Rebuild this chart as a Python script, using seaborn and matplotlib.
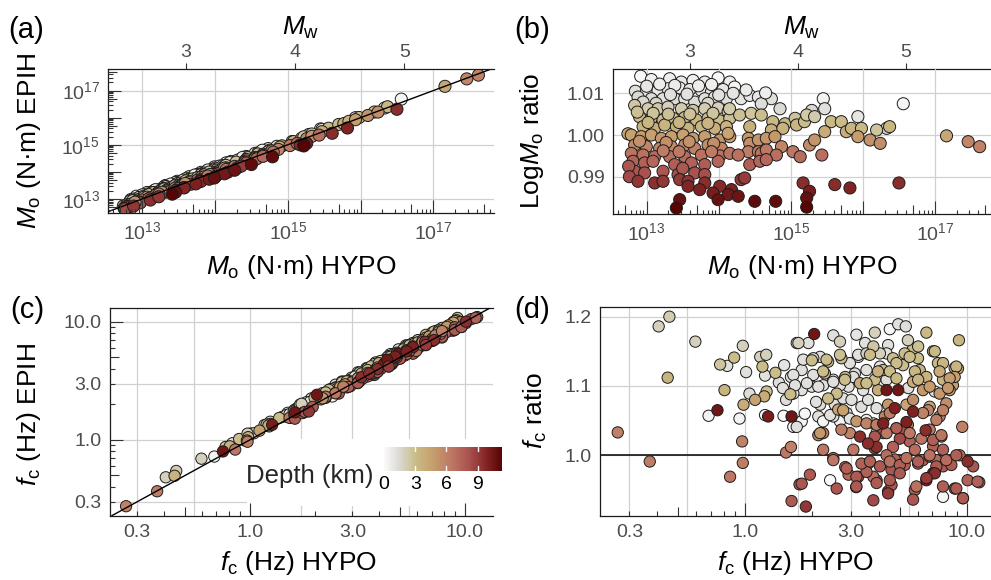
import numpy as np
import pandas as pd
import matplotlib
matplotlib.use("Agg")
import matplotlib.pyplot as plt
import seaborn as sns
from matplotlib.colors import LinearSegmentedColormap, Normalize
from matplotlib.collections import LineCollection
from matplotlib.patches import Rectangle
from matplotlib.cm import ScalarMappable
from matplotlib.ticker import FixedLocator, NullLocator, NullFormatter

# ---------------------------------------------------------------------------
# Seismic moment events: (log10 Mo from HYPO, log-Mo ratio EPIH/HYPO, depth km)
# ---------------------------------------------------------------------------
mo_shallow = [
    (12.917, 1.0141, 0.2), (13.065, 1.0133, 0.5), (13.319, 1.0135, 0.6), (13.480, 1.0127, 0.8),
    (13.643, 1.0131, 0.5), (13.806, 1.0127, 0.7), (13.991, 1.0137, 0.2), (14.153, 1.0127, 0.6),
    (12.843, 1.0105, 1.2), (12.995, 1.0103, 1.0), (13.157, 1.0107, 0.8), (13.296, 1.0111, 0.9),
    (13.458, 1.0113, 0.7), (13.597, 1.0109, 1.0), (13.759, 1.0107, 0.8), (13.898, 1.0103, 1.1),
    (14.060, 1.0109, 0.9), (12.880, 1.0091, 1.5), (13.065, 1.0087, 1.3), (13.227, 1.0087, 1.2),
    (13.389, 1.0087, 1.4), (13.528, 1.0087, 1.1), (13.667, 1.0079, 1.4), (13.806, 1.0087, 1.2),
    (13.944, 1.0091, 1.0), (14.106, 1.0087, 1.3), (14.220, 1.0115, 0.3), (14.310, 1.0087, 1.0),
    (14.430, 1.0095, 0.8), (14.550, 1.0091, 0.9), (14.730, 1.0087, 1.2), (14.590, 1.0075, 1.3),
    (14.850, 1.0063, 1.4), (15.450, 1.0087, 0.4), (15.470, 1.0063, 1.2), (15.290, 1.0059, 1.6),
    (15.930, 1.0044, 0.9), (16.560, 1.0075, 0.3), (16.330, 1.0016, 1.5),
    (13.180, 1.0122, 0.6), (13.390, 1.0119, 0.7), (13.720, 1.0118, 0.6), (13.900, 1.0121, 0.5),
    (13.000, 1.0117, 0.9), (13.560, 1.0098, 1.1), (13.330, 1.0097, 1.2), (14.000, 1.0096, 1.1),
    (14.200, 1.0100, 1.0), (14.380, 1.0108, 0.7), (12.950, 1.0079, 1.6), (13.130, 1.0076, 1.7),
    (13.850, 1.0076, 1.6), (14.650, 1.0101, 0.6),
]
mo_mid = [
    (12.833, 1.0071, 2.5), (13.018, 1.0063, 2.2), (13.157, 1.0063, 2.4), (13.296, 1.0067, 2.0),
    (13.482, 1.0063, 2.3), (13.643, 1.0059, 2.6), (13.806, 1.0063, 2.2), (13.991, 1.0065, 2.0),
    (14.130, 1.0056, 2.6), (12.900, 1.0044, 3.0), (13.065, 1.0040, 3.2), (13.227, 1.0036, 3.0),
    (13.366, 1.0040, 2.9), (13.528, 1.0042, 3.1), (13.690, 1.0036, 3.3), (13.852, 1.0040, 2.9),
    (14.014, 1.0034, 3.0), (14.153, 1.0040, 2.8), (12.950, 1.0020, 3.6), (13.111, 1.0016, 3.8),
    (13.250, 1.0024, 3.5), (13.412, 1.0020, 3.7), (13.574, 1.0016, 3.6), (13.759, 1.0020, 3.5),
    (13.944, 1.0016, 3.8), (14.106, 1.0020, 3.6), (14.150, 1.0063, 2.3), (14.290, 1.0048, 2.8),
    (14.450, 1.0052, 2.6), (14.590, 1.0048, 2.9), (14.750, 1.0032, 3.2), (14.920, 1.0027, 3.3),
    (15.060, 1.0040, 2.7), (15.080, 1.0024, 3.4), (15.190, 1.0032, 3.0), (15.220, 1.0048, 2.4),
    (15.330, 1.0044, 2.3), (15.560, 1.0032, 3.2), (15.700, 1.0032, 3.0), (15.470, 1.0008, 4.0),
    (15.770, 1.0008, 3.9), (15.840, 1.0016, 3.5), (14.430, 1.0020, 3.7), (14.730, 1.0012, 3.9),
    (14.890, 1.0016, 3.6), (15.980, 1.0016, 3.2), (16.190, 1.0012, 2.6), (16.370, 1.0020, 3.3),
    (12.740, 1.0003, 4.4),
    (12.870, 1.0055, 2.8), (13.090, 1.0052, 2.7), (13.300, 1.0050, 2.8), (13.600, 1.0050, 2.7),
    (13.920, 1.0052, 2.6), (13.450, 1.0030, 3.4), (13.850, 1.0028, 3.4), (13.020, 1.0030, 3.3),
]
mo_deep = [
    (12.787, 1.0000, 4.5), (12.926, 0.9996, 4.8), (13.065, 1.0000, 4.6), (13.204, 0.9992, 5.0),
    (13.343, 0.9996, 4.7), (13.505, 1.0000, 4.5), (13.643, 0.9992, 5.0), (13.806, 0.9996, 4.8),
    (14.014, 0.9988, 5.2), (14.153, 0.9996, 4.7), (12.833, 0.9976, 5.6), (12.995, 0.9972, 5.8),
    (13.180, 0.9968, 5.9), (13.343, 0.9972, 5.7), (13.528, 0.9976, 5.6), (13.667, 0.9968, 6.0),
    (13.852, 0.9976, 5.5), (14.037, 0.9968, 5.9), (14.130, 1.0004, 4.4), (14.410, 0.9992, 5.0),
    (14.430, 0.9980, 5.4), (14.550, 0.9988, 5.2), (14.660, 0.9992, 5.1), (14.780, 0.9996, 4.9),
    (14.870, 0.9972, 5.8), (15.260, 0.9976, 5.6), (15.330, 0.9988, 5.2), (14.410, 0.9960, 6.2),
    (14.550, 0.9960, 6.3), (15.930, 0.9996, 4.8), (16.100, 0.9988, 5.3), (16.240, 0.9980, 5.5),
    (17.160, 0.9998, 4.2), (17.460, 0.9984, 5.8), (17.620, 0.9972, 6.0),
    (12.787, 0.9956, 6.6), (12.950, 0.9952, 6.8), (13.111, 0.9948, 7.0), (13.319, 0.9948, 6.9),
    (13.528, 0.9948, 7.0), (13.759, 0.9952, 6.8), (14.014, 0.9950, 6.8), (14.153, 0.9956, 6.6),
    (12.810, 0.9937, 7.4), (12.972, 0.9933, 7.5), (13.088, 0.9937, 7.3), (13.389, 0.9929, 7.6),
    (13.620, 0.9933, 7.5), (13.806, 0.9929, 7.7), (13.991, 0.9937, 7.3), (12.833, 0.9913, 8.0),
    (12.972, 0.9909, 8.2), (13.227, 0.9913, 8.0), (13.435, 0.9905, 8.3), (13.667, 0.9909, 8.2),
    (13.806, 0.9905, 8.3), (14.270, 0.9952, 6.8), (14.590, 0.9956, 6.7), (14.660, 0.9964, 6.4),
    (14.800, 0.9952, 6.9), (15.030, 0.9960, 6.5), (15.130, 0.9948, 7.0), (15.430, 0.9952, 6.9),
    (14.430, 0.9929, 7.6), (14.570, 0.9937, 7.3), (14.660, 0.9941, 7.2), (12.750, 0.9925, 8.0),
    (12.760, 0.9900, 8.5),
    (12.900, 0.9985, 5.3), (13.270, 0.9982, 5.4), (13.590, 0.9984, 5.3), (13.930, 0.9980, 5.5),
    (13.230, 0.9962, 6.3), (13.450, 0.9960, 6.4), (13.900, 0.9960, 6.3), (13.500, 0.9920, 7.9),
]
mo_deepest = [
    (12.880, 0.9889, 9.2), (13.111, 0.9885, 9.4), (13.227, 0.9889, 9.2), (13.458, 0.9893, 9.1),
    (13.574, 0.9889, 9.3), (13.806, 0.9885, 9.5), (14.014, 0.9877, 9.7), (14.176, 0.9869, 10.0),
    (13.574, 0.9877, 9.8), (13.736, 0.9869, 10.0), (13.921, 0.9861, 10.2), (14.130, 0.9857, 10.4),
    (13.458, 0.9845, 10.8), (13.412, 0.9825, 11.5), (13.991, 0.9845, 10.8), (14.310, 0.9893, 9.2),
    (14.360, 0.9897, 9.0), (14.270, 0.9853, 10.6), (14.500, 0.9841, 11.0), (14.790, 0.9841, 11.0),
    (15.170, 0.9885, 9.5), (15.260, 0.9865, 10.2), (15.220, 0.9849, 10.8), (15.220, 0.9827, 11.5),
    (15.610, 0.9881, 9.6), (15.820, 0.9873, 9.9), (16.500, 0.9885, 9.5),
]

# ---------------------------------------------------------------------------
# Corner-frequency events: (fc HYPO in Hz, fc ratio EPIH/HYPO, depth km)
# ---------------------------------------------------------------------------
fc_shallow = [
    (0.684, 1.057, 0.4), (0.830, 1.129, 1.2), (0.943, 1.053, 0.4), (1.010, 1.120, 1.2),
    (1.046, 1.089, 1.3), (1.230, 1.115, 1.2), (1.230, 1.058, 0.3), (1.420, 1.105, 1.3),
    (1.500, 1.130, 1.0), (1.490, 1.057, 0.1), (1.480, 1.097, 1.2), (1.530, 1.080, 1.3),
    (1.610, 1.113, 1.2), (1.930, 1.162, 1.2), (2.500, 1.173, 1.2), (3.180, 1.174, 1.0),
    (4.500, 1.182, 0.2), (4.910, 1.189, 1.2), (5.310, 1.186, 1.3), (3.480, 1.162, 1.2),
    (2.420, 0.964, 0.1), (7.820, 0.940, 0.3), (7.180, 1.092, 1.2), (2.680, 1.049, 0.4),
    (2.870, 1.061, 1.2), (2.540, 1.073, 1.2), (1.800, 1.049, 0.3), (1.650, 1.041, 0.3),
    (2.140, 1.056, 1.2), (2.180, 1.073, 1.3), (2.770, 1.082, 1.2), (3.020, 1.080, 1.2),
    (3.350, 1.070, 1.3), (3.790, 1.046, 1.2), (3.920, 1.068, 1.2), (3.590, 1.080, 1.2),
    (3.410, 1.094, 1.2), (4.420, 1.159, 1.2), (3.240, 1.142, 1.2), (2.970, 1.133, 1.2),
    (2.180, 1.142, 1.2), (1.800, 1.123, 1.2), (1.650, 1.116, 1.2), (2.030, 1.116, 1.2),
    (2.500, 1.109, 1.2), (3.130, 1.118, 1.2), (3.530, 1.123, 1.2), (2.930, 1.099, 1.2),
    (2.680, 1.101, 1.2), (2.250, 1.101, 1.2), (2.000, 1.099, 1.2), (1.800, 1.094, 1.2),
    (1.650, 1.089, 1.2), (2.500, 1.056, 1.2), (2.250, 1.049, 0.3), (1.860, 1.060, 0.3),
    (2.090, 1.077, 1.2), (1.830, 1.138, 1.2), (2.030, 1.140, 1.3), (3.240, 1.145, 1.2),
    (4.060, 1.128, 1.2), (3.080, 1.113, 1.2), (2.500, 1.106, 1.2), (2.140, 1.099, 1.2),
    (1.900, 1.104, 1.2), (1.680, 1.101, 1.2), (5.450, 1.097, 1.2), (4.350, 1.147, 1.2),
    (4.350, 1.109, 1.3), (3.530, 1.051, 0.6), (3.920, 1.032, 1.2), (2.970, 1.053, 1.1),
    (2.420, 1.058, 1.2), (1.710, 1.041, 1.2),
]
fc_mid = [
    (0.407, 1.186, 2.0), (0.455, 1.200, 2.2), (0.447, 1.112, 3.6), (0.596, 1.164, 2.0),
    (0.771, 1.131, 2.6), (0.807, 1.094, 3.6), (0.892, 1.141, 3.0), (0.976, 1.158, 2.0),
    (0.983, 1.073, 4.0), (1.170, 1.142, 2.0), (1.245, 1.145, 2.0), (1.197, 1.128, 3.0),
    (1.250, 1.092, 3.0), (1.220, 1.085, 4.0), (1.370, 1.119, 3.0), (1.600, 1.088, 3.0),
    (1.710, 1.162, 2.0), (1.740, 1.162, 2.0), (3.850, 1.177, 2.0), (6.580, 1.177, 3.2),
    (9.230, 1.166, 3.4), (2.680, 1.164, 2.0), (9.140, 1.125, 4.0), (7.820, 1.109, 3.5),
    (7.420, 1.133, 3.2), (7.050, 1.150, 3.5), (6.140, 1.123, 3.5), (6.030, 1.140, 3.0),
    (5.730, 1.154, 3.0), (5.430, 1.166, 2.0), (5.250, 1.147, 3.0), (5.160, 1.130, 3.0),
    (5.730, 1.106, 4.0), (2.590, 1.089, 3.0), (3.980, 1.094, 4.0), (3.850, 1.109, 3.0),
    (4.200, 1.123, 3.0), (4.650, 1.140, 3.0), (4.060, 1.147, 2.0), (3.530, 1.147, 2.0),
    (2.720, 1.140, 3.0), (2.370, 1.135, 3.0), (2.000, 1.137, 3.0), (2.290, 1.118, 3.5),
    (2.830, 1.113, 3.0), (3.300, 1.104, 4.0), (2.370, 1.082, 3.0), (7.180, 1.150, 3.2),
    (7.820, 1.133, 3.4), (8.830, 1.126, 3.6), (6.040, 1.157, 2.8), (5.530, 1.142, 3.0),
    (4.820, 1.133, 3.0), (3.790, 1.157, 2.5), (2.330, 1.138, 3.0), (2.680, 1.145, 2.8),
    (3.660, 1.145, 3.0), (4.500, 1.121, 3.0), (5.840, 1.121, 3.3), (6.580, 1.113, 3.6),
    (7.550, 1.121, 4.0), (8.980, 1.128, 3.4), (4.820, 1.111, 3.2), (3.980, 1.121, 3.8),
    (3.530, 1.104, 3.0), (2.820, 1.109, 3.0), (2.250, 1.121, 3.0), (6.040, 1.109, 3.5),
    (1.109, 1.080, 4.5), (6.810, 1.070, 4.4), (5.350, 1.073, 4.4),
]
fc_deep = [
    (0.266, 1.033, 6.0), (0.371, 0.991, 6.2), (0.855, 0.969, 6.5), (0.969, 1.020, 6.0),
    (0.976, 0.989, 6.2), (1.530, 1.004, 6.5), (1.610, 1.012, 6.0), (1.620, 0.934, 7.8),
    (1.760, 0.958, 7.6), (1.800, 0.959, 8.0), (1.960, 0.972, 7.8), (2.590, 0.952, 8.0),
    (2.500, 0.996, 7.5), (2.250, 1.008, 6.5), (2.140, 1.029, 6.0), (2.830, 0.983, 7.0),
    (2.930, 0.972, 7.2), (3.170, 0.954, 8.0), (3.240, 0.969, 7.5), (3.790, 0.935, 8.5),
    (3.920, 0.964, 7.5), (4.420, 0.948, 8.5), (4.580, 0.957, 8.0), (5.840, 0.950, 7.5),
    (5.730, 0.936, 8.0), (8.830, 0.952, 8.0), (9.630, 0.938, 8.0), (10.10, 0.964, 7.5),
    (11.40, 0.961, 7.5), (10.70, 0.984, 8.0), (9.290, 1.000, 7.0), (9.550, 1.041, 6.0),
    (8.670, 1.101, 4.5), (8.830, 1.113, 4.5), (8.380, 1.094, 5.0), (8.090, 1.075, 5.5),
    (7.550, 1.056, 6.0), (7.690, 1.027, 7.0), (7.050, 1.013, 7.5), (6.810, 1.037, 6.5),
    (6.700, 1.065, 6.0), (6.350, 1.094, 5.0), (5.730, 1.080, 5.5), (5.430, 1.044, 6.0),
    (5.530, 1.020, 7.5), (5.840, 1.008, 7.0), (6.030, 0.988, 7.5), (6.350, 0.993, 7.5),
    (6.810, 0.998, 7.0), (7.300, 0.993, 7.0), (7.820, 1.008, 7.5), (7.820, 0.984, 7.8),
    (8.530, 0.986, 7.8), (4.820, 1.039, 6.0), (5.250, 1.036, 8.0), (4.990, 1.024, 8.5),
    (4.650, 1.012, 7.5), (4.740, 0.994, 7.5), (5.250, 0.986, 7.5), (4.580, 0.979, 8.0),
    (4.350, 1.000, 7.0), (4.200, 1.032, 8.0), (4.270, 1.056, 6.0), (4.420, 1.073, 5.0),
    (3.850, 1.027, 8.0), (3.590, 0.988, 8.0), (3.790, 0.969, 7.0), (3.530, 0.976, 7.5),
    (3.350, 0.988, 7.5), (3.080, 1.008, 6.5), (2.970, 1.032, 6.0), (3.180, 1.049, 5.0),
    (3.530, 1.046, 6.0), (2.630, 1.066, 4.5), (2.770, 1.065, 4.5), (8.380, 1.111, 4.8),
    (6.810, 1.099, 4.8), (7.550, 1.089, 5.0), (8.240, 1.097, 5.0), (3.850, 1.010, 8.5),
    (2.500, 0.993, 6.5), (2.870, 0.981, 7.5), (3.180, 0.969, 7.8), (3.660, 0.991, 7.5),
    (4.060, 0.984, 7.8), (4.500, 0.991, 6.8), (4.990, 0.986, 7.6), (5.350, 0.996, 6.8),
    (6.040, 0.991, 7.6), (6.810, 1.000, 6.8), (7.300, 0.984, 7.8), (8.090, 0.993, 7.0),
    (8.980, 1.000, 7.6), (11.20, 0.962, 7.5), (3.920, 0.960, 7.8), (4.500, 0.964, 7.8),
    (4.990, 0.974, 7.8), (5.930, 0.955, 6.8), (7.820, 0.955, 7.6), (8.980, 0.952, 7.8),
    (9.620, 0.938, 7.8), (3.180, 0.955, 7.8), (2.250, 1.032, 6.4), (2.720, 1.037, 6.2),
    (3.920, 1.044, 6.2), (4.350, 1.032, 6.4), (4.820, 1.039, 7.6), (5.530, 1.032, 6.4),
    (6.250, 1.024, 6.6), (7.050, 1.022, 7.6), (7.690, 1.029, 6.6), (7.300, 1.051, 6.2),
    (6.350, 1.061, 6.0), (7.820, 1.065, 6.0), (4.500, 1.061, 6.2), (2.180, 1.032, 5.0),
]
fc_deepest = [
    (0.750, 1.065, 10.5), (1.270, 1.056, 10.2), (1.620, 1.056, 10.5), (2.050, 1.175, 10.5),
    (1.880, 0.926, 9.2), (6.580, 0.964, 10.0), (7.050, 0.974, 10.2), (10.10, 0.991, 9.5),
    (5.730, 1.063, 10.0), (4.910, 1.094, 10.5), (4.740, 1.068, 10.0), (4.200, 1.046, 10.0),
    (4.350, 1.094, 10.5), (3.920, 1.012, 9.5), (3.300, 1.027, 9.5), (3.590, 1.017, 9.5),
    (5.350, 1.048, 10.0), (6.530, 1.036, 9.5), (7.180, 0.974, 9.5), (6.580, 0.967, 9.0),
    (4.420, 0.945, 9.0),
]

# Axis tick values and labels
mo_ticks = [1e13, 1e15, 1e17]
mo_ticklabels = [r"$10^{13}$", r"$10^{15}$", r"$10^{17}$"]
mw_ticks = [3, 4, 5]
fc_ticks = [0.3, 1.0, 3.0, 10.0]
fc_ticklabels = ["0.3", "1.0", "3.0", "10.0"]
logmo_ratio_ticks = [0.99, 1.00, 1.01]
fc_ratio_ticks = [1.0, 1.1, 1.2]
depth_ticks = [0, 3, 6, 9]

# ---------------------------------------------------------------------------
sns.set_style("white")
plt.rcParams["font.family"] = ["Liberation Sans", "DejaVu Sans"]
plt.rcParams["mathtext.fontset"] = "custom"
plt.rcParams["mathtext.rm"] = "Liberation Sans"
plt.rcParams["mathtext.it"] = "Liberation Sans:italic"
plt.rcParams["mathtext.bf"] = "Liberation Sans:bold"

mo = pd.DataFrame(mo_shallow + mo_mid + mo_deep + mo_deepest,
                  columns=["log_mo", "ratio", "depth"])
mo["mo_hypo"] = 10.0 ** mo["log_mo"]
mo["mo_epih"] = 10.0 ** (mo["log_mo"] * mo["ratio"])

fc = pd.DataFrame(fc_shallow + fc_mid + fc_deep + fc_deepest,
                  columns=["fc_hypo", "ratio", "depth"])
fc["fc_epih"] = fc["fc_hypo"] * fc["ratio"]

depth_cmap = LinearSegmentedColormap.from_list(
    "depth",
    [(0.00, "#fbfbfb"), (0.12, "#dcdbd7"), (0.27, "#c9bb86"), (0.42, "#c69d6c"),
     (0.57, "#bd7764"), (0.72, "#a9524e"), (0.88, "#7e2020"), (1.00, "#560404")])
depth_norm = Normalize(vmin=0, vmax=11.4)

W, H = 991, 580
fig = plt.figure(figsize=(W / 100, H / 100), dpi=100)


def px_axes(x0, y0, x1, y1):
    return fig.add_axes([x0 / W, 1 - y1 / H, (x1 - x0) / W, (y1 - y0) / H])


ax_a = px_axes(108.3, 69.5, 494.0, 213.3)
ax_b = px_axes(613.3, 69.3, 991.0, 214.3)
ax_c = px_axes(110.0, 308.3, 493.3, 515.7)
ax_d = px_axes(600.0, 306.7, 991.0, 515.7)

TICK_GREY = "#4d4d4d"
GRID = "#d0d0d0"


def scatter(ax, df, x, y, size):
    sns.scatterplot(data=df, x=x, y=y, hue="depth", palette=depth_cmap,
                    hue_norm=depth_norm, s=size, edgecolor="#1c1c1c",
                    linewidth=0.7, legend=False, ax=ax, zorder=3)


def base_style(ax):
    ax.set_xlabel("")
    ax.set_ylabel("")
    ax.set_facecolor("white")
    for side in ["left", "bottom", "top"]:
        ax.spines[side].set_color("#1a1a1a")
        ax.spines[side].set_linewidth(0.9)
    ax.spines["right"].set_visible(False)
    ax.set_axisbelow(True)
    ax.grid(True, which="major", color=GRID, lw=0.9)
    ax.tick_params(which="major", direction="out", length=4, width=0.8,
                   color="#333333", labelsize=14, labelcolor=TICK_GREY, pad=2)
    ax.tick_params(which="minor", length=0)
    ax.xaxis.set_minor_formatter(NullFormatter())
    ax.yaxis.set_minor_formatter(NullFormatter())


def log_ticks(ax, axis, k_lo, k_hi, span_px):
    # inner log ticks: long at decades, medium at fives, short elsewhere
    segs = []
    for k in range(k_lo, k_hi + 1):
        for m in range(1, 10):
            v = m * 10.0 ** k
            L = {1: 13.0, 5: 9.0}.get(m, 4.5) / span_px
            if axis == "x":
                segs.append([(v, 0), (v, L)])
            else:
                segs.append([(0, v), (L, v)])
    tr = ax.get_xaxis_transform() if axis == "x" else ax.get_yaxis_transform()
    lc = LineCollection(segs, colors="#333333", linewidths=0.8, transform=tr, zorder=4)
    ax.add_collection(lc, autolim=False)


def mo_to_mw(m):
    return (2.0 / 3.0) * (np.log10(np.maximum(np.asarray(m, dtype=float), 1e-30)) - 9.1)


def mw_to_mo(w):
    return 10.0 ** (1.5 * np.asarray(w, dtype=float) + 9.1)


def mw_axis(ax):
    ax.spines["top"].set_visible(False)
    sec = ax.secondary_xaxis("top", functions=(mo_to_mw, mw_to_mo))
    sec.set_xticks(mw_ticks)
    sec.set_xticklabels([str(t) for t in mw_ticks])
    sec.xaxis.set_minor_locator(NullLocator())
    sec.tick_params(direction="out", length=4, width=0.8, color="#333333",
                    labelsize=14, labelcolor=TICK_GREY, pad=2)
    sec.spines["top"].set_color("#1a1a1a")
    sec.spines["top"].set_linewidth(0.9)
    return sec


# ---------------- (a) Mo EPIH vs Mo HYPO ----------------
scatter(ax_a, mo, "mo_hypo", "mo_epih", 76)
ax_a.set_xscale("log")
ax_a.set_yscale("log")
base_style(ax_a)
ax_a.axline((1e13, 1e13), (1e17, 1e17), color="black", lw=1.0, zorder=4)
ax_a.xaxis.set_major_locator(FixedLocator(mo_ticks))
ax_a.set_xticklabels(mo_ticklabels)
ax_a.xaxis.set_minor_locator(FixedLocator([1e14, 1e16]))
ax_a.grid(True, which="minor", axis="x", color=GRID, lw=0.9)
ax_a.yaxis.set_major_locator(FixedLocator(mo_ticks))
ax_a.set_yticklabels(mo_ticklabels)
ax_a.yaxis.set_minor_locator(NullLocator())
log_ticks(ax_a, "x", 12, 17, 143.8)
log_ticks(ax_a, "y", 12, 17, 385.7)
ax_a.set_xlim(10 ** 12.533, 10 ** 17.834)
ax_a.set_ylim(10 ** 12.47, 10 ** 17.778)
mw_axis(ax_a)

# ---------------- (b) log-Mo ratio vs Mo HYPO ----------------
scatter(ax_b, mo, "mo_hypo", "ratio", 76)
ax_b.set_xscale("log")
base_style(ax_b)
ax_b.xaxis.set_major_locator(FixedLocator(mo_ticks))
ax_b.set_xticklabels(mo_ticklabels)
ax_b.xaxis.set_minor_locator(FixedLocator([1e14, 1e16]))
ax_b.grid(True, which="minor", axis="x", color=GRID, lw=0.9)
ax_b.yaxis.set_major_locator(FixedLocator(logmo_ratio_ticks))
ax_b.set_yticklabels([f"{t:.2f}" for t in logmo_ratio_ticks])
log_ticks(ax_b, "x", 12, 17, 145.0)
ax_b.set_xlim(10 ** 12.537, 10 ** 17.777)
ax_b.set_ylim(0.98098, 1.01576)
mw_axis(ax_b)

# ---------------- (c) fc EPIH vs fc HYPO ----------------
scatter(ax_c, fc, "fc_hypo", "fc_epih", 66)
ax_c.set_xscale("log")
ax_c.set_yscale("log")
base_style(ax_c)
ax_c.axline((1.0, 1.0), (10.0, 10.0), color="black", lw=1.0, zorder=4)
ax_c.xaxis.set_major_locator(FixedLocator(fc_ticks))
ax_c.set_xticklabels(fc_ticklabels)
ax_c.xaxis.set_minor_locator(FixedLocator([0.5477, 1.7321, 5.4772]))
ax_c.grid(True, which="minor", axis="x", color=GRID, lw=0.9)
ax_c.yaxis.set_major_locator(FixedLocator(fc_ticks))
ax_c.set_yticklabels(fc_ticklabels)
ax_c.yaxis.set_minor_locator(NullLocator())
log_ticks(ax_c, "x", -1, 1, 207.4)
log_ticks(ax_c, "y", -1, 1, 383.3)
ax_c.set_xlim(0.2240, 13.54)
ax_c.set_ylim(0.2284, 12.99)
# white backing for the depth key
ax_c.add_patch(Rectangle((247 / W, 1 - 506 / H), 258 / W, 67 / H, transform=fig.transFigure,
                         facecolor="white", edgecolor="none", zorder=0.8, clip_on=False))

# ---------------- (d) fc ratio vs fc HYPO ----------------
scatter(ax_d, fc, "fc_hypo", "ratio", 66)
ax_d.set_xscale("log")
base_style(ax_d)
ax_d.axhline(1.0, color="black", lw=1.1, zorder=2)
ax_d.xaxis.set_major_locator(FixedLocator(fc_ticks))
ax_d.set_xticklabels(fc_ticklabels)
ax_d.xaxis.set_minor_locator(FixedLocator([0.5477, 1.7321, 5.4772]))
ax_d.grid(True, which="minor", axis="x", color=GRID, lw=0.9)
ax_d.yaxis.set_major_locator(FixedLocator(fc_ratio_ticks))
ax_d.set_yticklabels([f"{t:.1f}" for t in fc_ratio_ticks])
ax_d.yaxis.set_minor_locator(FixedLocator([0.95, 1.05, 1.15]))
ax_d.tick_params(axis="y", which="minor", direction="in", length=3, width=0.8, color="#333333")
log_ticks(ax_d, "x", -1, 1, 209.0)
ax_d.set_xlim(0.2212, 12.88)
ax_d.set_ylim(0.9128, 1.2144)

# ---------------- depth colour key ----------------
cax = fig.add_axes([384 / W, 1 - 470.5 / H, 118.5 / W, 24 / H])
sm = ScalarMappable(norm=depth_norm, cmap=depth_cmap)
cb = fig.colorbar(sm, cax=cax, orientation="horizontal")
cb.outline.set_visible(False)
cb.set_ticks(depth_ticks)
cb.set_ticklabels([str(t) for t in depth_ticks])
cax.tick_params(length=0, labelsize=14, labelcolor="black", pad=4)
for t in depth_ticks[1:]:
    cax.plot([t, t], [0, 0.2], color="white", lw=1.0, transform=cax.get_xaxis_transform())
    cax.plot([t, t], [0.8, 1.0], color="white", lw=1.0, transform=cax.get_xaxis_transform())
fig.text(373 / W, 1 - 483 / H, "Depth (km)", fontsize=18.5, ha="right", va="baseline")


# ---------------- labels ----------------
def ftext(x, y, s, **kw):
    fig.text(x / W, 1 - y / H, s, **kw)


LAB = dict(fontsize=19, color="black")
ftext(301, 267, r"$M_{\mathrm{o}}$ (N·m) HYPO", ha="center", va="center", **LAB)
ftext(802, 267, r"$M_{\mathrm{o}}$ (N·m) HYPO", ha="center", va="center", **LAB)
ftext(301, 28, r"$M_{\mathrm{w}}$", ha="center", va="center", **LAB)
ftext(802, 28, r"$M_{\mathrm{w}}$", ha="center", va="center", **LAB)
ftext(29, 141, r"$M_{\mathrm{o}}$ (N·m) EPIH", ha="center", va="center", rotation=90, **LAB)
ftext(532, 141, r"Log$M_{\mathrm{o}}$ ratio", ha="center", va="center", rotation=90, **LAB)
ftext(299, 563, r"$f_{\mathrm{c}}$ (Hz) HYPO", ha="center", va="center", **LAB)
ftext(796, 563, r"$f_{\mathrm{c}}$ (Hz) HYPO", ha="center", va="center", **LAB)
ftext(29, 414, r"$f_{\mathrm{c}}$ (Hz) EPIH", ha="center", va="center", rotation=90, **LAB)
ftext(535, 411, r"$f_{\mathrm{c}}$ ratio", ha="center", va="center", rotation=90, **LAB)

PANEL = dict(fontsize=21, color="black", ha="left", va="center")
ftext(8, 30, "(a)", **PANEL)
ftext(514, 30, "(b)", **PANEL)
ftext(10, 310, "(c)", **PANEL)
ftext(514, 310, "(d)", **PANEL)

fig.savefig("out.png", dpi=100)
